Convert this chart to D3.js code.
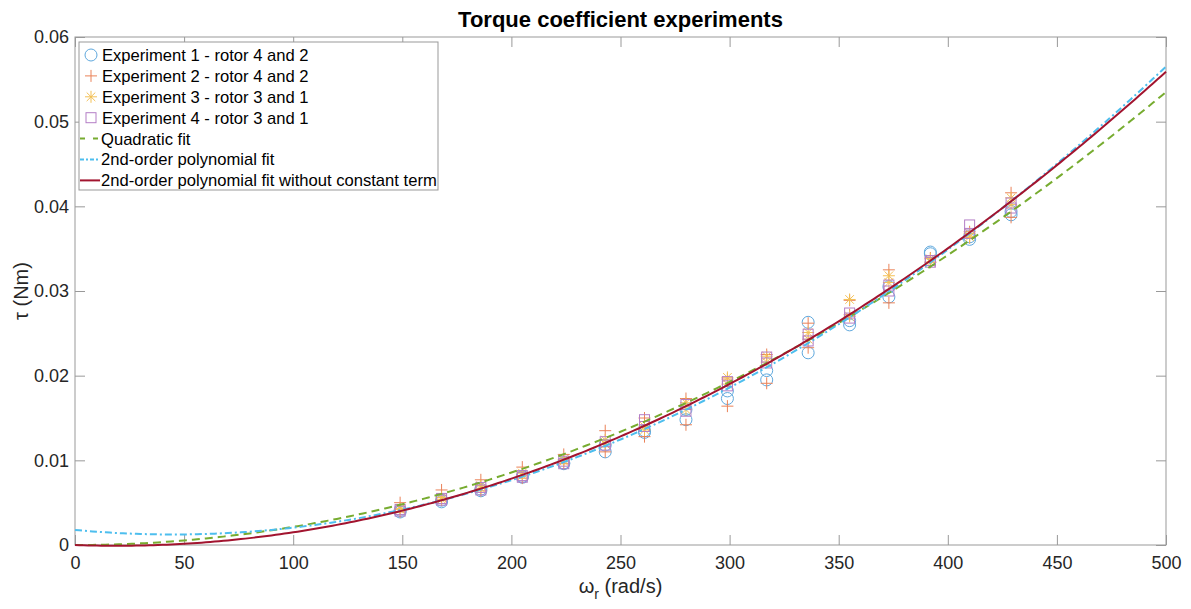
<!DOCTYPE html>
<html>
<head>
<meta charset="utf-8">
<script src="https://cdn.jsdelivr.net/npm/d3@7"></script>
<style>
  body { margin: 0; background: #fff; }
  svg { font-family: "Liberation Sans", Arial, Helvetica, sans-serif; }
</style>
</head>
<body>
<div id="chart"></div>
<script>
'use strict';

// rotor speeds (rad/s) at which torque was measured
const speeds = [149, 168, 186, 205, 224, 243, 261, 280, 299, 317, 336, 355, 373, 392, 410, 429];

// two readings per speed for each experiment (Nm)
const exp1 = [[0.0039, 0.0041], [0.0051, 0.0053], [0.0064, 0.0066], [0.0080, 0.0081], [0.0096, 0.0097],
    [0.0110, 0.0118], [0.0133, 0.0135], [0.0148, 0.0160], [0.0173, 0.0182], [0.0195, 0.0206],
    [0.0263, 0.0227], [0.0260, 0.0265], [0.0293, 0.0305], [0.0344, 0.0346], [0.0361, 0.0364], [0.0390, 0.0394]];
const exp2 = [[0.0050, 0.0039], [0.0065, 0.0053], [0.0077, 0.0064], [0.0092, 0.0079], [0.0107, 0.0096],
    [0.0135, 0.0110], [0.0150, 0.0128], [0.0173, 0.0142], [0.0196, 0.0164], [0.0225, 0.0191],
    [0.0262, 0.0233], [0.0289, 0.0272], [0.0325, 0.0286], [0.0339, 0.0334], [0.0370, 0.0363], [0.0416, 0.0387]];
const exp3 = [[0.0043, 0.0042], [0.0056, 0.0054], [0.0070, 0.0067], [0.0085, 0.0082], [0.0101, 0.0099],
    [0.0124, 0.0119], [0.0140, 0.0136], [0.0168, 0.0160], [0.0198, 0.0190], [0.0223, 0.0216],
    [0.0251, 0.0243], [0.0290, 0.0270], [0.0318, 0.0310], [0.0338, 0.0334], [0.0368, 0.0364], [0.0410, 0.0402]];
const exp4 = [[0.0042, 0.0040], [0.0055, 0.0053], [0.0068, 0.0065], [0.0082, 0.0080], [0.0099, 0.0096],
    [0.0122, 0.0118], [0.0148, 0.0140], [0.0166, 0.0158], [0.0193, 0.0188], [0.0222, 0.0215],
    [0.0249, 0.0241], [0.0274, 0.0268], [0.0307, 0.0300], [0.0336, 0.0334], [0.0378, 0.0368], [0.0404, 0.0398]];

// fit coefficients [c0, c1, c2] for tau = c0 + c1*w + c2*w^2
const quadFit = [0, 0, 2.14e-7];
const polyFit = [0.00178, -2.40e-5, 2.669e-7];
const polyFitNoConst = [0, -9.22e-6, 2.4204e-7];

const xTicks = [0, 50, 100, 150, 200, 250, 300, 350, 400, 450, 500];
const yTicks = [0, 0.01, 0.02, 0.03, 0.04, 0.05, 0.06];

const width = 1191, height = 609;
const margin = { top: 37, right: 25, bottom: 64, left: 75 };
const innerW = width - margin.left - margin.right;
const innerH = height - margin.top - margin.bottom;

const svg = d3.select('#chart').append('svg')
    .attr('width', width)
    .attr('height', height);

const g = svg.append('g')
    .attr('transform', `translate(${margin.left},${margin.top})`);

const x = d3.scaleLinear().domain([0, 500]).range([0, innerW]);
const y = d3.scaleLinear().domain([0, 0.06]).range([innerH, 0]);

const axisColor = '#999';
const textColor = '#262626';

// axes box with inward ticks on all four sides
function styleAxis(sel) {
    sel.select('.domain').remove();
    sel.selectAll('.tick line').attr('stroke', axisColor);
    sel.selectAll('.tick text').attr('fill', textColor).attr('font-size', 18);
}
g.append('g').attr('transform', `translate(0,${innerH})`)
    .call(d3.axisBottom(x).tickValues(xTicks).tickSizeInner(-10).tickSizeOuter(0).tickPadding(11))
    .call(styleAxis);
g.append('g')
    .call(d3.axisTop(x).tickValues(xTicks).tickSizeInner(-10).tickSizeOuter(0).tickFormat(''))
    .call(styleAxis);
g.append('g')
    .call(d3.axisLeft(y).tickValues(yTicks).tickSizeInner(-10).tickSizeOuter(0).tickPadding(6).tickFormat(d => d === 0 ? '0' : d3.format('.2f')(d)))
    .call(styleAxis);
g.append('g').attr('transform', `translate(${innerW},0)`)
    .call(d3.axisRight(y).tickValues(yTicks).tickSizeInner(-10).tickSizeOuter(0).tickFormat(''))
    .call(styleAxis);
g.append('rect')
    .attr('width', innerW).attr('height', innerH)
    .attr('fill', 'none').attr('stroke', axisColor).attr('stroke-width', 1);

// marker definitions
const markers = [
    { name: 'Experiment 1 - rotor 4 and 2', data: exp1, color: '#5fa8dd', shape: 'circle' },
    { name: 'Experiment 2 - rotor 4 and 2', data: exp2, color: '#ea8258', shape: 'plus' },
    { name: 'Experiment 3 - rotor 3 and 1', data: exp3, color: '#f3c055', shape: 'star' },
    { name: 'Experiment 4 - rotor 3 and 1', data: exp4, color: '#b47ec6', shape: 'square' }
];

function drawMarker(sel, shape, color) {
    if (shape === 'circle') {
        sel.append('circle').attr('r', 6);
    } else if (shape === 'square') {
        sel.append('rect').attr('x', -5).attr('y', -5).attr('width', 10).attr('height', 10);
    } else if (shape === 'plus') {
        sel.append('path').attr('d', 'M-6,0H6M0,-6V6');
    } else if (shape === 'star') {
        sel.append('path').attr('d', 'M-6,0H6M0,-6V6M-4.3,-4.3L4.3,4.3M-4.3,4.3L4.3,-4.3');
    }
    sel.selectAll('*').attr('fill', 'none').attr('stroke', color).attr('stroke-width', 1);
}

const pts = g.append('g');
markers.forEach(m => {
    const flat = [];
    speeds.forEach((w, i) => m.data[i].forEach(v => flat.push([w, v])));
    pts.selectAll(null)
        .data(flat)
        .join('g')
        .attr('transform', d => `translate(${x(d[0])},${y(d[1])})`)
        .each(function () { drawMarker(d3.select(this), m.shape, m.color); });
});

// fitted curves
const ws = d3.range(0, 501, 2);
const evalFit = (c, w) => c[0] + c[1] * w + c[2] * w * w;
const fits = [
    { name: 'Quadratic fit', coef: quadFit, color: '#77ac30', dash: '8,5' },
    { name: '2nd-order polynomial fit', coef: polyFit, color: '#4dbeee', dash: '7,3,2,3' },
    { name: '2nd-order polynomial fit without constant term', coef: polyFitNoConst, color: '#a2142f', dash: null }
];
const line = d3.line().x(d => x(d[0])).y(d => y(d[1]));
fits.forEach(f => {
    g.append('path')
        .datum(ws.map(w => [w, evalFit(f.coef, w)]))
        .attr('fill', 'none')
        .attr('stroke', f.color)
        .attr('stroke-width', 2)
        .attr('stroke-dasharray', f.dash)
        .attr('d', line);
});

// legend
const legend = svg.append('g').attr('transform', 'translate(79,42)');
legend.append('rect')
    .attr('width', 359).attr('height', 148)
    .attr('fill', '#fff').attr('stroke', axisColor);
const rowY = i => 13 + i * 20.9;
markers.forEach((m, i) => {
    const item = legend.append('g').attr('transform', `translate(12,${rowY(i)})`);
    drawMarker(item, m.shape, m.color);
    legend.append('text').attr('x', 23).attr('y', rowY(i)).attr('dy', '0.36em')
        .attr('font-size', 16.6).attr('fill', '#000').text(m.name);
});
fits.forEach((f, j) => {
    const i = j + 4;
    legend.append('line')
        .attr('x1', 1).attr('x2', 21).attr('y1', rowY(i)).attr('y2', rowY(i))
        .attr('stroke', f.color).attr('stroke-width', 2)
        .attr('stroke-dasharray', j === 0 ? '5,8' : j === 1 ? '4,2,2,2' : null);
    legend.append('text').attr('x', 22).attr('y', rowY(i)).attr('dy', '0.36em')
        .attr('font-size', 16.6).attr('fill', '#000').text(f.name);
});

// title and axis labels
svg.append('text')
    .attr('x', margin.left + innerW / 2).attr('y', 27)
    .attr('text-anchor', 'middle').attr('font-size', 22).attr('font-weight', 'bold')
    .attr('fill', '#000').text('Torque coefficient experiments');

const xl = svg.append('text')
    .attr('x', margin.left + innerW / 2).attr('y', 593)
    .attr('text-anchor', 'middle').attr('font-size', 20).attr('fill', textColor);
xl.append('tspan').text('ω');
xl.append('tspan').attr('font-size', 14).attr('dy', 6).text('r');
xl.append('tspan').attr('dy', -6).text(' (rad/s)');

svg.append('text')
    .attr('transform', `translate(28,${margin.top + innerH / 2}) rotate(-90)`)
    .attr('text-anchor', 'middle').attr('font-size', 20).attr('fill', textColor)
    .text('τ (Nm)');
</script>
</body>
</html>
